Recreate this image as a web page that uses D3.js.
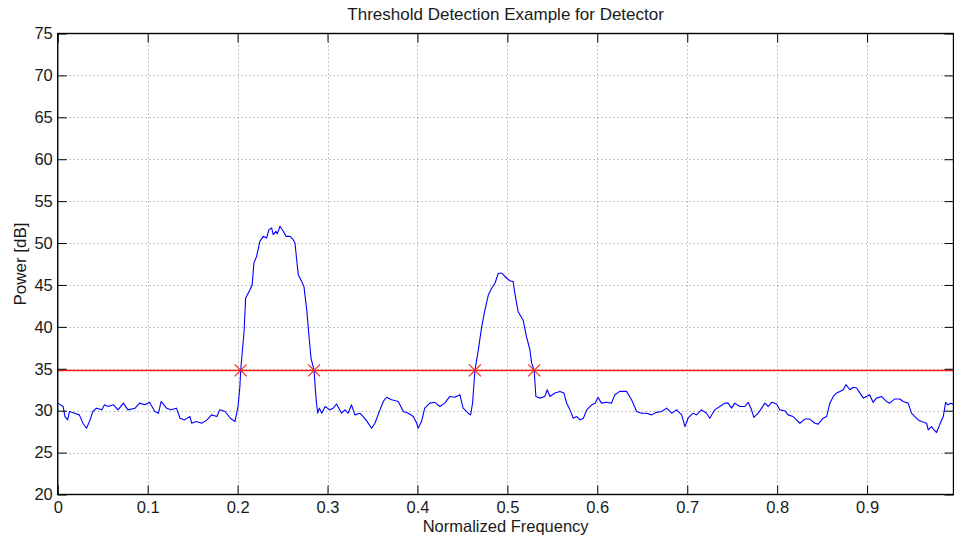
<!DOCTYPE html>
<html>
<head>
<meta charset="utf-8">
<script src="https://cdn.jsdelivr.net/npm/d3@7"></script>
<style>
  html, body { margin: 0; padding: 0; background: #fff; }
  svg { display: block; font-family: "Liberation Sans", Arial, Helvetica, sans-serif; }
</style>
</head>
<body>
<svg id="chart" width="954" height="535"></svg>
<script>
// Smoothed power spectrum (normalized frequency vs. power in dB)
const freq = [
  0.000, 0.006, 0.008, 0.011, 0.013, 0.019, 0.024, 0.028, 0.032, 0.036,
  0.039, 0.043, 0.049, 0.052, 0.056, 0.062, 0.067, 0.073, 0.078, 0.086,
  0.091, 0.097, 0.102, 0.108, 0.112, 0.115, 0.121, 0.126, 0.132, 0.136,
  0.141, 0.147, 0.149, 0.154, 0.160, 0.166, 0.171, 0.177, 0.180, 0.186,
  0.192, 0.197, 0.199, 0.2006, 0.2025, 0.2034, 0.2073, 0.2089, 0.2136, 0.2162,
  0.2181, 0.2211, 0.2248, 0.2285, 0.2323, 0.2348, 0.2378, 0.2396, 0.2426, 0.2441,
  0.2471, 0.2508, 0.2538, 0.2582, 0.2619, 0.2638, 0.2657, 0.2675, 0.2713, 0.2738,
  0.2769, 0.2798, 0.2817, 0.2851, 0.2864, 0.2876, 0.2891, 0.2909, 0.2936, 0.2973,
  0.3025, 0.3062, 0.3100, 0.3156, 0.3193, 0.3229, 0.3267, 0.3304, 0.3360, 0.3397,
  0.3441, 0.3490, 0.3527, 0.3583, 0.3620, 0.3657, 0.3713, 0.3787, 0.3843, 0.3898,
  0.3954, 0.3992, 0.4007, 0.4045, 0.4081, 0.4137, 0.4193, 0.4249, 0.4304, 0.4360,
  0.4416, 0.4472, 0.4508, 0.4564, 0.4591, 0.4613, 0.4639, 0.4676, 0.4714, 0.4750,
  0.4788, 0.4825, 0.4862, 0.4899, 0.4937, 0.4993, 0.5027, 0.5064, 0.5083, 0.5120,
  0.5175, 0.5213, 0.5250, 0.5269, 0.5298, 0.5317, 0.5361, 0.5417, 0.5443, 0.5473,
  0.5529, 0.5584, 0.5629, 0.5659, 0.5696, 0.5733, 0.5771, 0.5807, 0.5845, 0.5882,
  0.5938, 0.5975, 0.6008, 0.6046, 0.6102, 0.6158, 0.6195, 0.6250, 0.6325, 0.6381,
  0.6437, 0.6492, 0.6548, 0.6604, 0.6660, 0.6715, 0.6771, 0.6827, 0.6882, 0.6938,
  0.6975, 0.7009, 0.7065, 0.7102, 0.7158, 0.7214, 0.7251, 0.7306, 0.7362, 0.7418,
  0.7455, 0.7493, 0.7529, 0.7585, 0.7641, 0.7678, 0.7715, 0.7741, 0.7789, 0.7827,
  0.7864, 0.7901, 0.7939, 0.7994, 0.8029, 0.8085, 0.8122, 0.8177, 0.8215, 0.8252,
  0.8308, 0.8363, 0.8419, 0.8456, 0.8512, 0.8550, 0.8586, 0.8624, 0.8661, 0.8698,
  0.8735, 0.8765, 0.8809, 0.8846, 0.8884, 0.8921, 0.8958, 0.8993, 0.9029, 0.9066,
  0.9104, 0.9160, 0.9215, 0.9252, 0.9308, 0.9364, 0.9401, 0.9457, 0.9494, 0.9531,
  0.9568, 0.9606, 0.9661, 0.9680, 0.9717, 0.9743, 0.9773, 0.9810, 0.9847, 0.9873,
  0.9897, 0.9935, 0.9961
];
const powerDb = [
  30.9, 30.5, 29.3, 28.9, 29.9, 29.7, 29.5, 28.5, 27.9, 28.9,
  29.9, 30.3, 30.1, 30.7, 30.5, 30.7, 30.1, 30.9, 30.1, 30.3,
  30.9, 30.7, 31.0, 29.9, 29.7, 31.1, 30.3, 30.1, 30.3, 29.1,
  28.9, 29.3, 28.5, 28.7, 28.5, 28.9, 29.5, 29.3, 30.1, 29.9,
  29.1, 28.7, 29.7, 30.6, 32.8, 34.8, 39.6, 43.4, 44.4, 45.0,
  47.6, 48.4, 50.2, 50.8, 50.6, 51.6, 51.8, 51.0, 51.4, 51.1,
  52.0, 51.4, 50.8, 50.8, 50.4, 50.0, 48.0, 46.2, 45.4, 44.8,
  42.0, 38.4, 36.2, 34.8, 32.6, 31.0, 29.7, 30.3, 29.7, 30.5,
  30.1, 30.3, 30.8, 29.7, 30.1, 29.7, 30.7, 29.5, 29.7, 29.3,
  28.7, 27.9, 28.5, 30.1, 31.1, 31.6, 31.3, 31.1, 29.9, 29.7,
  29.3, 28.5, 27.9, 28.7, 30.3, 30.9, 31.0, 30.5, 30.9, 31.7,
  31.6, 31.9, 30.3, 29.7, 29.5, 30.9, 34.8, 37.2, 40.0, 42.0,
  43.8, 44.6, 45.2, 46.4, 46.4, 45.8, 45.5, 45.4, 44.0, 41.8,
  40.8, 38.8, 37.3, 35.7, 34.8, 31.7, 31.5, 31.7, 32.5, 31.7,
  32.1, 32.3, 32.1, 30.9, 30.1, 29.1, 29.3, 28.9, 29.1, 30.1,
  30.7, 30.9, 31.6, 30.9, 31.0, 30.9, 31.9, 32.3, 32.3, 31.3,
  29.9, 29.7, 29.7, 29.5, 29.8, 29.9, 30.3, 29.7, 30.1, 29.5,
  28.1, 29.1, 29.7, 29.5, 30.1, 29.7, 29.1, 30.1, 30.5, 30.9,
  30.9, 30.3, 30.9, 30.5, 30.5, 31.0, 30.1, 29.2, 29.7, 30.3,
  30.9, 30.5, 31.0, 30.8, 30.1, 30.0, 29.5, 29.3, 28.9, 28.5,
  29.0, 29.0, 28.5, 28.4, 29.1, 29.3, 30.9, 31.7, 32.1, 32.3,
  32.5, 33.1, 32.5, 32.8, 32.7, 32.1, 31.5, 31.7, 31.9, 31.0,
  31.5, 31.7, 31.1, 30.9, 31.4, 31.4, 31.1, 30.9, 29.7, 29.3,
  28.9, 28.7, 28.5, 27.7, 28.1, 27.7, 27.4, 28.4, 29.3, 31.0,
  30.7, 30.9, 30.7
];

// Detection threshold and the frequencies where the spectrum crosses it
const thresholdDb = 34.8;
const crossingFreq = [0.2034, 0.2851, 0.4639, 0.5298];

// Axis ticks
const xTicks = [0, 0.1, 0.2, 0.3, 0.4, 0.5, 0.6, 0.7, 0.8, 0.9];
const xTickLabels = ["0", "0.1", "0.2", "0.3", "0.4", "0.5", "0.6", "0.7", "0.8", "0.9"];
const yTicks = [20, 25, 30, 35, 40, 45, 50, 55, 60, 65, 70, 75];
const yTickLabels = ["20", "25", "30", "35", "40", "45", "50", "55", "60", "65", "70", "75"];

const xDomain = [0, 0.99609];
const yDomain = [20, 75];

const svg = d3.select("#chart");
const plotLeft = 57.75, plotRight = 953.5, plotTop = 33.5, plotBottom = 494.5;
const plotW = plotRight - plotLeft, plotH = plotBottom - plotTop;

const x = d3.scaleLinear().domain(xDomain).range([plotLeft, plotRight]);
const y = d3.scaleLinear().domain(yDomain).range([plotBottom, plotTop]);

const FONT = 17;
const TICK_FONT = 16.5;
const tickLen = 9;

// Dotted grid
const grid = svg.append("g").attr("stroke", "#8c8c8c").attr("stroke-width", 1)
  .attr("stroke-dasharray", "1,3");
grid.selectAll("line.gx").data(xTicks.filter(v => v > xDomain[0] && v < xDomain[1]))
  .join("line").attr("class", "gx")
  .attr("x1", d => Math.round(x(d)) + 0.5).attr("x2", d => Math.round(x(d)) + 0.5)
  .attr("y1", plotTop).attr("y2", plotBottom);
grid.selectAll("line.gy").data(yTicks.filter(v => v > yDomain[0] && v < yDomain[1]))
  .join("line").attr("class", "gy")
  .attr("y1", d => Math.round(y(d)) + 0.5).attr("y2", d => Math.round(y(d)) + 0.5)
  .attr("x1", plotLeft).attr("x2", plotRight);

// Clip region for the plotted data
svg.append("clipPath").attr("id", "plotArea")
  .append("rect").attr("x", plotLeft).attr("y", plotTop).attr("width", plotW).attr("height", plotH);

const plot = svg.append("g").attr("clip-path", "url(#plotArea)");

const line = d3.line().x(d => x(d[0])).y(d => y(d[1]));
const series = freq.map((f, i) => [f, powerDb[i]]);

plot.append("path").datum(series)
  .attr("d", line)
  .attr("fill", "none")
  .attr("stroke", "#0000ff")
  .attr("stroke-width", 1.1)
  .attr("stroke-linejoin", "round");

// Threshold level
plot.append("line")
  .attr("x1", x(xDomain[0])).attr("x2", x(xDomain[1]))
  .attr("y1", y(thresholdDb)).attr("y2", y(thresholdDb))
  .attr("stroke", "#ff1a1a").attr("stroke-width", 1.4);

// Crossing markers
const mk = 6;
const marks = plot.append("g").attr("stroke", "#ff1a1a").attr("stroke-width", 1.1);
crossingFreq.forEach(f => {
  const cx = x(f), cy = y(thresholdDb);
  marks.append("path")
    .attr("d", `M${cx - mk},${cy - mk}L${cx + mk},${cy + mk}M${cx - mk},${cy + mk}L${cx + mk},${cy - mk}`);
});

// Axes with inward ticks on all four sides
function styleAxis(g) {
  g.select(".domain").remove();
  g.selectAll(".tick line").attr("stroke", "#000").attr("stroke-width", 1);
  g.selectAll(".tick text").attr("fill", "#1a1a1a").style("font-size", TICK_FONT + "px");
}

svg.append("g").attr("transform", `translate(0,${plotBottom})`)
  .call(d3.axisBottom(x).tickValues(xTicks).tickSize(-tickLen).tickPadding(6.5)
    .tickFormat((d, i) => xTickLabels[i]))
  .call(styleAxis);
svg.append("g").attr("transform", `translate(0,${plotTop})`)
  .call(d3.axisTop(x).tickValues(xTicks).tickSize(-tickLen).tickFormat(""))
  .call(styleAxis);
svg.append("g").attr("transform", `translate(${plotLeft},0)`)
  .call(d3.axisLeft(y).tickValues(yTicks).tickSize(-tickLen).tickPadding(5)
    .tickFormat((d, i) => yTickLabels[i]))
  .call(styleAxis);
svg.append("g").attr("transform", `translate(${plotRight},0)`)
  .call(d3.axisRight(y).tickValues(yTicks).tickSize(-tickLen).tickFormat(""))
  .call(styleAxis);

// Axes box
svg.append("rect")
  .attr("x", plotLeft).attr("y", plotTop).attr("width", plotW).attr("height", plotH)
  .attr("fill", "none").attr("stroke", "#000").attr("stroke-width", 1.4);

// Title and axis labels
svg.append("text")
  .attr("x", (plotLeft + plotRight) / 2).attr("y", 20)
  .attr("text-anchor", "middle").attr("fill", "#1a1a1a")
  .style("font-size", FONT + "px")
  .text("Threshold Detection Example for Detector");

svg.append("text")
  .attr("x", (plotLeft + plotRight) / 2).attr("y", 531.5)
  .attr("text-anchor", "middle").attr("fill", "#1a1a1a")
  .style("font-size", "16.5px")
  .text("Normalized Frequency");

svg.append("text")
  .attr("transform", `translate(26,${(plotTop + plotBottom) / 2}) rotate(-90)`)
  .attr("text-anchor", "middle").attr("fill", "#1a1a1a")
  .style("font-size", FONT + "px")
  .text("Power [dB]");
</script>
</body>
</html>
